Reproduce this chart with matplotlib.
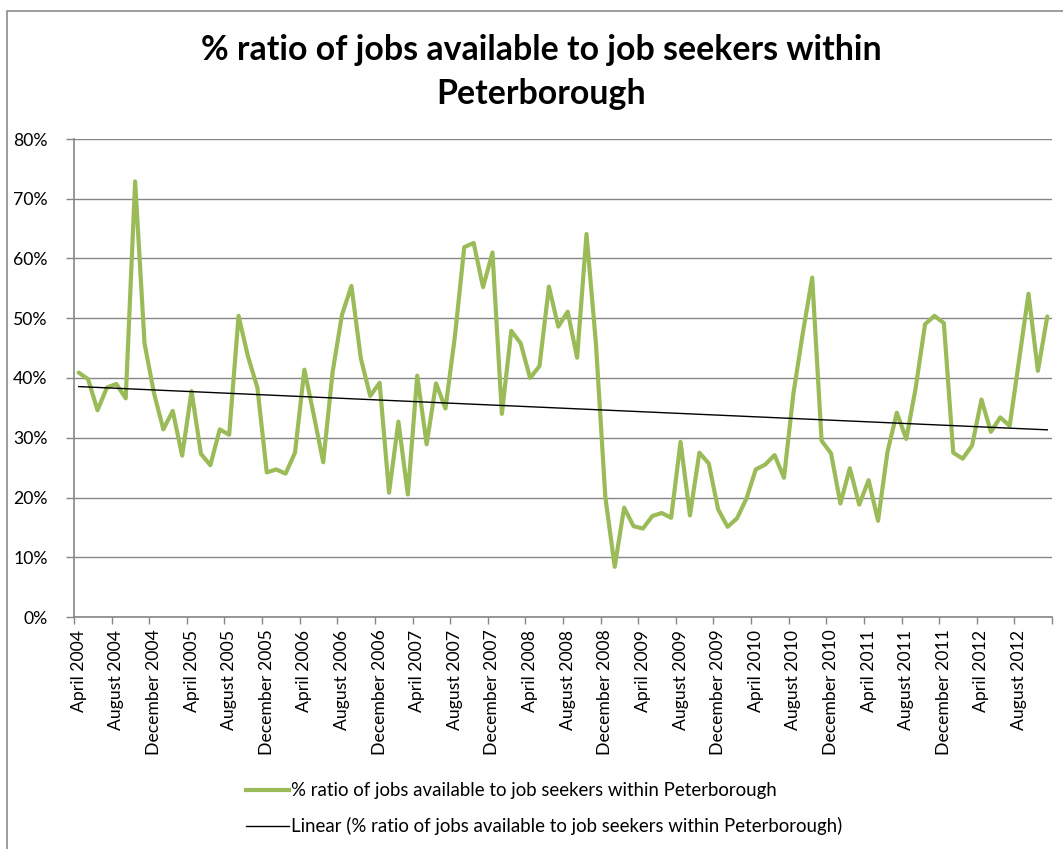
import numpy as np
import matplotlib
matplotlib.use("Agg")
import matplotlib.pyplot as plt
from matplotlib.lines import Line2D
from matplotlib.patches import Rectangle

# ---- data ----
series_name = "% ratio of jobs available to job seekers within Peterborough"
trend_name = "Linear (% ratio of jobs available to job seekers within Peterborough)"
title_text = "% ratio of jobs available to job seekers within\nPeterborough"

ratio_pct = [
    40.9, 39.8, 34.6, 38.4, 39.0, 36.6, 72.9, 45.8, 37.5, 31.4,
    34.5, 27.0, 37.8, 27.3, 25.4, 31.4, 30.5, 50.4, 43.6, 38.4,
    24.2, 24.7, 24.0, 27.5, 41.4, 33.8, 25.9, 41.0, 50.6, 55.4,
    43.3, 37.0, 39.2, 20.8, 32.7, 20.5, 40.4, 28.9, 39.1, 34.9,
    46.9, 61.9, 62.6, 55.2, 61.0, 34.0, 47.9, 45.8, 40.0, 42.0,
    55.3, 48.6, 51.1, 43.4, 64.1, 45.8, 20.1, 8.4, 18.3, 15.2,
    14.8, 16.9, 17.4, 16.6, 29.3, 17.0, 27.5, 25.7, 18.0, 15.1,
    16.5, 19.8, 24.7, 25.5, 27.1, 23.3, 37.4, 47.5, 56.8, 29.5,
    27.4, 19.0, 24.9, 18.8, 22.9, 16.1, 27.6, 34.2, 29.8, 38.3,
    49.0, 50.4, 49.2, 27.5, 26.5, 28.7, 36.4, 31.0, 33.4, 32.0,
    43.0, 54.1, 41.2, 50.3,
]

x_labels = [
    "April 2004", "August 2004", "December 2004",
    "April 2005", "August 2005", "December 2005",
    "April 2006", "August 2006", "December 2006",
    "April 2007", "August 2007", "December 2007",
    "April 2008", "August 2008", "December 2008",
    "April 2009", "August 2009", "December 2009",
    "April 2010", "August 2010", "December 2010",
    "April 2011", "August 2011", "December 2011",
    "April 2012", "August 2012",
]
label_every = 4
y_ticks = [0, 10, 20, 30, 40, 50, 60, 70, 80]
y_tick_labels = ["0%", "10%", "20%", "30%", "40%", "50%", "60%", "70%", "80%"]

# ---- figure ----
W, H = 1063, 849
fig = plt.figure(figsize=(W / 100, H / 100), dpi=100)
fig.patch.set_facecolor("white")
FONT = ["Lato", "DejaVu Sans"]
plt.rcParams["font.family"] = FONT

# outer chart border
fig.add_artist(Rectangle((7 / W, -0.05), 1.2, (H - 11) / H + 0.05,
                         transform=fig.transFigure, fill=False,
                         edgecolor="#8c8c8c", lw=1.2))

left, right, top, bottom = 74, 1052, 139, 617
ax = fig.add_axes([left / W, (H - bottom) / H, (right - left) / W, (bottom - top) / H])

n = len(ratio_pct)
xpos = np.arange(n) + 0.5
yv = np.array(ratio_pct)

ax.plot(xpos, yv, color="#9BBB59", lw=3.0, solid_joinstyle="round",
        solid_capstyle="round", zorder=3, label=series_name)

# linear trendline (least squares over the series)
coef = np.polyfit(np.arange(1, n + 1), yv, 1)
trend = np.polyval(coef, np.arange(1, n + 1))
ax.plot(xpos, trend, color="black", lw=1.0, zorder=4, label=trend_name)

ax.set_xlim(0, n)
ax.set_ylim(0, 80)

gridc = "#868686"
ax.set_yticks(y_ticks)
ax.set_yticklabels(y_tick_labels)
ax.yaxis.grid(True, color=gridc, lw=1.0)
ax.set_axisbelow(True)

major = np.arange(0, n + 1, label_every)
ax.set_xticks(major)
ax.set_xticklabels([])
minor_pos = np.arange(0, n, label_every) + 0.5
ax.set_xticks(minor_pos[:len(x_labels)], minor=True)
ax.set_xticklabels(x_labels, minor=True, rotation=90, fontsize=12.7)
ax.tick_params(axis="x", which="minor", length=0, pad=9)
ax.tick_params(axis="x", which="major", length=5, color=gridc, width=1)
ax.tick_params(axis="y", length=6, color=gridc, width=1, labelsize=12.7, pad=13)

for s in ["top", "right"]:
    ax.spines[s].set_visible(False)
for s in ["left", "bottom"]:
    ax.spines[s].set_color(gridc)
    ax.spines[s].set_linewidth(1.2)

fig.text(541 / W, (H - 72) / H, title_text,
         ha="center", va="center", fontsize=24.4, fontweight="bold",
         linespacing=1.45)

handles = [Line2D([], [], color="#9BBB59", lw=3.0),
           Line2D([], [], color="black", lw=1.0)]
fig.legend(handles, [series_name, trend_name], loc="upper left",
           bbox_to_anchor=(237 / W, (H - 773) / H), frameon=False,
           fontsize=13.4, handlelength=2.3, handletextpad=0.08,
           labelspacing=0.95, borderpad=0.0)

fig.savefig("out.png", dpi=100, facecolor="white")
